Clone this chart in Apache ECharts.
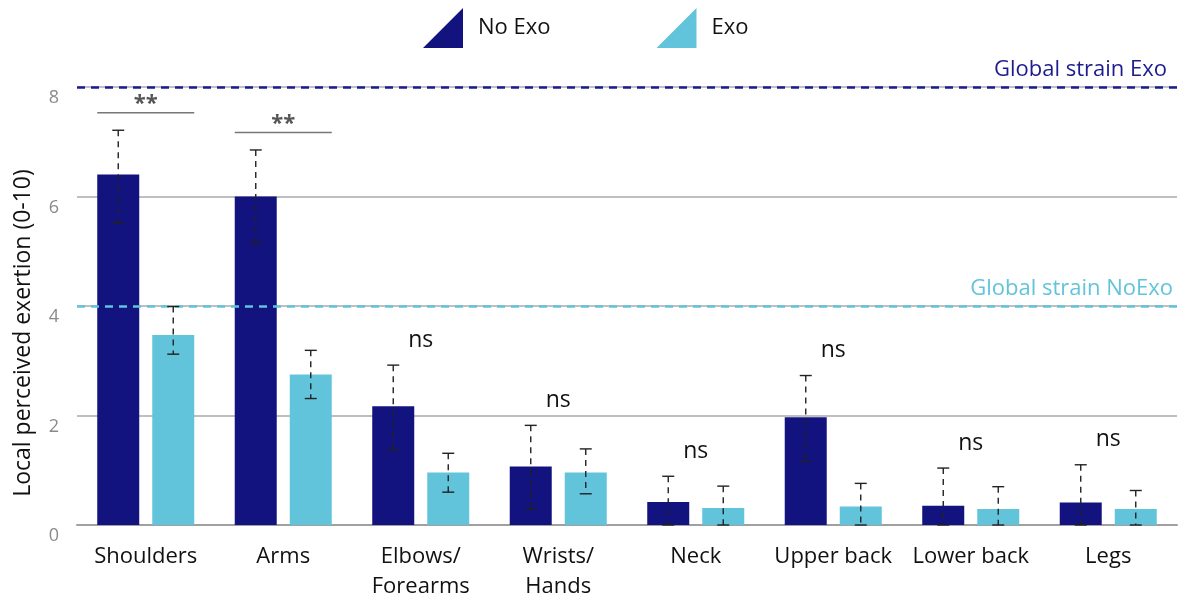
<!DOCTYPE html>
<html>
<head>
<meta charset="utf-8">
<script src="https://cdn.jsdelivr.net/npm/echarts@6/dist/echarts.min.js"></script>
<style>html,body{margin:0;padding:0;background:#fff;}#c{width:1181px;height:602px;}</style>
</head>
<body>
<div id="c"></div>
<script>
// ---- data ----
const categories = ['Shoulders', 'Arms', 'Elbows/\nForearms', 'Wrists/\nHands', 'Neck', 'Upper back', 'Lower back', 'Legs'];
const noExoMean  = [6.40, 6.00, 2.17, 1.07, 0.42, 1.97, 0.35, 0.41];
const noExoLow   = [5.52, 5.14, 1.37, 0.29, 0.00, 1.16, 0.00, 0.00];
const noExoHigh  = [7.21, 6.85, 2.92, 1.82, 0.89, 2.73, 1.04, 1.10];
const exoMean    = [3.47, 2.75, 0.96, 0.96, 0.31, 0.34, 0.29, 0.29];
const exoLow     = [3.12, 2.31, 0.60, 0.57, 0.00, 0.00, 0.00, 0.00];
const exoHigh    = [3.99, 3.19, 1.31, 1.39, 0.71, 0.76, 0.70, 0.63];
const sigLabels  = ['**', '**', 'ns', 'ns', 'ns', 'ns', 'ns', 'ns'];
const globalStrainExo = 8.0;
const globalStrainNoExo = 4.0;
const yTicks = [0, 2, 4, 6, 8];

// ---- style ----
const NAVY = '#131380';
const LIGHT = '#62C4DB';
const FONT = 'Open Sans';
const BAR_OFFSET = 27.5;

function errSeries(name, low, high, dir) {
  return {
    type: 'custom',
    name: name + ' err',
    z: 5,
    silent: true,
    data: low.map((l, i) => [i, l, high[i]]),
    encode: { x: 0, y: [1, 2] },
    renderItem: function (params, api) {
      const i = api.value(0);
      const top = api.coord([i, api.value(2)]);
      const bot = api.coord([i, api.value(1)]);
      const x = top[0] + dir * BAR_OFFSET;
      const cap = 6;
      return {
        type: 'group',
        children: [
          { type: 'line', shape: { x1: x, y1: top[1], x2: x, y2: bot[1] },
            style: { stroke: '#222', lineWidth: 1.4, lineDash: [6, 5] } },
          { type: 'line', shape: { x1: x - cap, y1: top[1], x2: x + cap, y2: top[1] },
            style: { stroke: '#222', lineWidth: 1.4 } },
          { type: 'line', shape: { x1: x - cap, y1: bot[1], x2: x + cap, y2: bot[1] },
            style: { stroke: '#222', lineWidth: 1.4 } }
        ]
      };
    }
  };
}

const maxHigh = noExoHigh.map((v, i) => Math.max(v, exoHigh[i]));

const chart = echarts.init(document.getElementById('c'), null, { renderer: 'canvas' });
chart.setOption({
  animation: false,
  textStyle: { fontFamily: FONT },
  legend: {
    data: ['No Exo', 'Exo'],
    left: 418, top: 3,
    icon: 'path://M10,0 L10,10 L0,10 Z',
    itemWidth: 40, itemHeight: 40,
    itemGap: 106,
    textStyle: { fontSize: 22, color: '#111', fontFamily: FONT, padding: [0, 0, 0, 10] }
  },
  grid: { left: 77, right: 4, top: 87, bottom: 72, containLabel: false },
  xAxis: {
    type: 'category',
    data: categories,
    axisLine: { lineStyle: { color: '#a0a0a0', width: 2 } },
    axisTick: { show: false },
    axisLabel: { fontSize: 22, color: '#111', fontFamily: FONT, lineHeight: 30, margin: 17, interval: 0 }
  },
  yAxis: {
    type: 'value',
    min: 0, max: 8, interval: 2,
    name: 'Local perceived exertion (0-10)',
    nameLocation: 'middle',
    nameGap: 42,
    nameTextStyle: { fontSize: 23, color: '#111', fontFamily: FONT, padding: [0, 54, 0, 0] },
    axisLine: { show: false },
    axisTick: { show: false },
    axisLabel: {
      fontSize: 18, color: '#8a8a8a', margin: 18, verticalAlign: 'top', padding: [2, 0, 0, 0],
      formatter: v => (yTicks.indexOf(v) >= 0 ? String(v) : '')
    },
    splitLine: { lineStyle: { color: '#aaaaaa', width: 1.5 } }
  },
  series: [
    {
      name: 'No Exo', type: 'bar', data: noExoMean, barWidth: 42, barGap: '31%',
      itemStyle: { color: NAVY },
      markLine: {
        silent: true, symbol: 'none',
        data: [
          { yAxis: globalStrainExo, lineStyle: { color: '#1c1c8f', type: [8, 6], width: 2.5 },
            label: { show: true, position: 'insideEndTop', formatter: 'Global strain Exo', color: '#1c1c8f',
                     fontSize: 22, fontFamily: FONT, distance: [10, 6] } },
          { yAxis: globalStrainNoExo, lineStyle: { color: LIGHT, type: [8, 6], width: 2.5 },
            label: { show: true, position: 'insideEndTop', formatter: 'Global strain NoExo', color: LIGHT,
                     fontSize: 22, fontFamily: FONT, distance: [4, 6] } }
        ]
      }
    },
    {
      name: 'Exo', type: 'bar', data: exoMean, barWidth: 42,
      itemStyle: { color: LIGHT }
    },
    errSeries('No Exo', noExoLow, noExoHigh, -1),
    errSeries('Exo', exoLow, exoHigh, 1),
    {
      type: 'custom',
      name: 'sig',
      z: 6,
      silent: true,
      data: maxHigh.map((v, i) => [i, v]),
      encode: { x: 0, y: 1 },
      renderItem: function (params, api) {
        const i = api.value(0);
        const p = api.coord([i, api.value(1)]);
        const lab = sigLabels[params.dataIndex];
        if (lab === 'ns') {
          return { type: 'text', x: p[0], y: p[1] - 25,
            style: { text: 'ns', fill: '#111', fontSize: 23, fontFamily: FONT, align: 'center', verticalAlign: 'middle' } };
        }
        const ly = p[1] - 17.5;
        return {
          type: 'group',
          children: [
            { type: 'line', shape: { x1: p[0] - 48.5, y1: ly, x2: p[0] + 48.5, y2: ly },
              style: { stroke: '#777', lineWidth: 1.6 } },
            { type: 'text', x: p[0], y: ly - 9,
              style: { text: lab, fill: '#555', fontSize: 22, fontWeight: 'bold', fontFamily: FONT, align: 'center', verticalAlign: 'middle' } }
          ]
        };
      }
    }
  ]
});
</script>
</body>
</html>
